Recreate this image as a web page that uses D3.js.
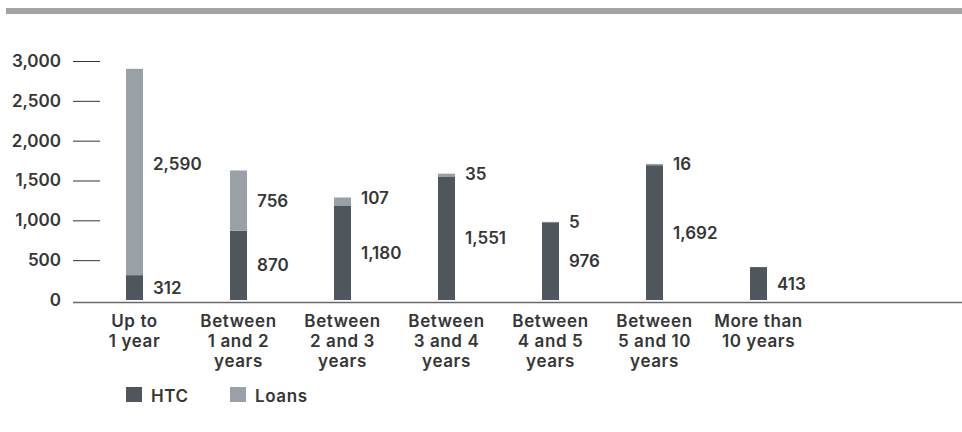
<!DOCTYPE html>
<html>
<head>
<meta charset="utf-8">
<script src="https://cdn.jsdelivr.net/npm/d3@7"></script>
<style>
  html, body { margin: 0; padding: 0; background: #fff; }
  svg { display: block; }
  text { font-family: Inter, "Open Sans", sans-serif; font-weight: 600; fill: #363636; }
</style>
</head>
<body>
<svg id="chart" width="962" height="432"></svg>
<script>
// Maturity buckets (label lines) and the two stacked series
const categories = [
  ["Up to", "1 year"],
  ["Between", "1 and 2", "years"],
  ["Between", "2 and 3", "years"],
  ["Between", "3 and 4", "years"],
  ["Between", "4 and 5", "years"],
  ["Between", "5 and 10", "years"],
  ["More than", "10 years"]
];
const htc   = [312, 870, 1180, 1551, 976, 1692, 413];
const loans = [2590, 756, 107, 35, 5, 16, 0];
const yTicks = [0, 500, 1000, 1500, 2000, 2500, 3000];
const seriesNames = ["HTC", "Loans"];
const seriesColors = ["#4f565e", "#9aa0a7"];

const svg = d3.select("#chart");
const fmt = d3.format(",");

// header rule
svg.append("rect").attr("x", 6).attr("y", 8).attr("width", 956).attr("height", 6).attr("fill", "#a3a3a3");

const y = d3.scaleLinear().domain([0, 3000]).range([300, 61]);
const x = d3.scalePoint().domain(d3.range(categories.length)).range([134.5, 758.5]);
const barW = 17;

// y axis: short tick strokes with labels to the left
const yAxis = d3.axisLeft(y).tickValues(yTicks).tickFormat(fmt).tickSize(27).tickPadding(12);
const gy = svg.append("g").attr("transform", "translate(100,0)").call(yAxis);
gy.select(".domain").remove();
gy.selectAll(".tick line").attr("stroke", "#333").attr("stroke-width", 1)
  .attr("display", d => d === 0 ? "none" : null);
gy.selectAll(".tick text").attr("font-size", 17).attr("fill", "#363636")
  .style("font-family", "Inter, 'Open Sans', sans-serif").style("font-weight", 600);

// stacked bars
const rows = htc.map((h, i) => ({ i, HTC: h, Loans: loans[i] }));
const stack = d3.stack().keys(seriesNames)(rows);
svg.append("g").selectAll("g").data(stack).join("g")
  .attr("fill", (d, k) => seriesColors[k])
  .selectAll("rect").data(d => d).join("rect")
  .attr("x", d => x(d.data.i) - barW / 2)
  .attr("width", barW)
  .attr("y", d => y(d[1]))
  .attr("height", d => y(d[0]) - y(d[1]));

// baseline
svg.append("line").attr("x1", 73).attr("x2", 962).attr("y1", 302.5).attr("y2", 302.5)
  .attr("stroke", "#6a6a6a").attr("stroke-width", 1.5);

// value labels beside each segment
const lbl = svg.append("g").attr("font-size", 17);
rows.forEach(r => {
  const lx = x(r.i) + barW / 2 + 10;
  const hy = (y(0) + y(r.HTC)) / 2;
  lbl.append("text").attr("x", lx).attr("y", hy).attr("dy", "0.36em").text(fmt(r.HTC));
  if (r.Loans > 0) {
    const top = y(r.HTC + r.Loans), bot = y(r.HTC);
    const h = bot - top;
    // short segments: label at the top of the stack; tall ones: a little above the middle
    const ly = h < 20 ? top : top + h * (h > 150 ? 0.46 : 0.5);
    lbl.append("text").attr("x", lx).attr("y", ly).attr("dy", "0.36em").text(fmt(r.Loans));
  }
});

// category labels
const cat = svg.append("g").attr("font-size", 17).attr("text-anchor", "middle").attr("letter-spacing", 0.6);
categories.forEach((lines, i) => {
  const t = cat.append("text").attr("x", x(i)).attr("y", 327);
  lines.forEach((s, j) => t.append("tspan").attr("x", x(i)).attr("y", 327 + j * 19.8).text(s));
});

// legend
const leg = svg.append("g").attr("font-size", 17).attr("letter-spacing", 0.6);
const legX = [126, 230];
seriesNames.forEach((n, k) => {
  leg.append("rect").attr("x", legX[k]).attr("y", 387).attr("width", 16).attr("height", 15).attr("fill", seriesColors[k]);
  leg.append("text").attr("x", legX[k] + 25).attr("y", 401.5).text(n);
});
</script>
</body>
</html>
